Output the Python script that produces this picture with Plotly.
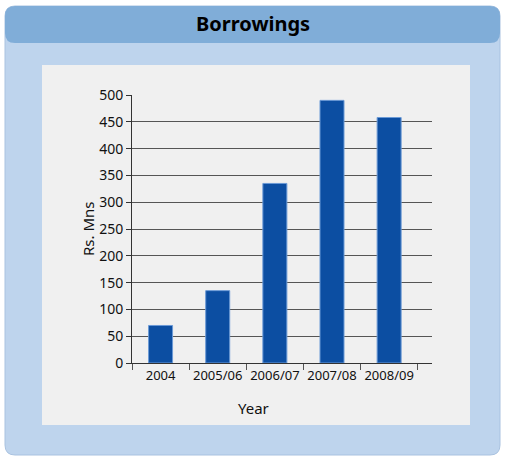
import plotly.graph_objects as go

categories = ["2004", "2005/06", "2006/07", "2007/08", "2008/09"]
values = [70, 135, 335, 490, 458]
y_ticks = [0, 50, 100, 150, 200, 250, 300, 350, 400, 450, 500]

W, H = 505, 459

def px(x):
    return x / W

def py(y):
    return 1 - y / H

def rounded(x0, y0, x1, y1, r):
    X = lambda v: px(v)
    Y = lambda v: py(v)
    return (f"M {X(x0+r)},{Y(y0)} L {X(x1-r)},{Y(y0)} "
            f"Q {X(x1)},{Y(y0)} {X(x1)},{Y(y0+r)} "
            f"L {X(x1)},{Y(y1-r)} Q {X(x1)},{Y(y1)} {X(x1-r)},{Y(y1)} "
            f"L {X(x0+r)},{Y(y1)} Q {X(x0)},{Y(y1)} {X(x0)},{Y(y1-r)} "
            f"L {X(x0)},{Y(y0+r)} Q {X(x0)},{Y(y0)} {X(x0+r)},{Y(y0)} Z")

fig = go.Figure()
fig.add_trace(go.Bar(
    x=categories, y=values, width=0.42,
    marker=dict(color="#0C4EA2", line=dict(color="#6B9AD6", width=1)),
))

shapes = [
    dict(type="path", xref="paper", yref="paper", path=rounded(5, 6, 500, 455, 10),
         fillcolor="#BED4ED", line=dict(color="#A9C2E0", width=1), layer="below"),
    dict(type="path", xref="paper", yref="paper", path=rounded(5, 6, 500, 43, 10),
         fillcolor="#80ADD8", line=dict(width=0), layer="below"),
    dict(type="rect", xref="paper", yref="paper", x0=px(42), x1=px(470), y0=py(425), y1=py(65),
         fillcolor="#F0F0F0", line=dict(width=0), layer="below"),
]

fig.update_layout(
    width=W, height=H,
    margin=dict(l=0, r=0, t=0, b=0, pad=0, autoexpand=False),
    paper_bgcolor="white",
    plot_bgcolor="rgba(0,0,0,0)",
    shapes=shapes,
    showlegend=False,
    font=dict(family="Noto Sans", size=13, color="#111"),
    annotations=[
        dict(text="<b>Borrowings</b>", x=px(253), y=py(23), xref="paper", yref="paper",
             showarrow=False, font=dict(size=20, color="#000", family="Noto Sans"),
             xanchor="center", yanchor="middle"),
        dict(text="Year", x=px(253), y=py(408), xref="paper", yref="paper",
             showarrow=False, font=dict(size=15, color="#111"), xanchor="center", yanchor="middle"),
        dict(text="Rs. Mns", x=px(88), y=py(229), xref="paper", yref="paper", textangle=-90,
             showarrow=False, font=dict(size=15, color="#111"), xanchor="center", yanchor="middle"),
    ],
    xaxis=dict(
        domain=[px(132), px(432)],
        range=[-0.5, 4.75],
        type="category",
        tickson="boundaries",
        tickangle=0,
        ticks="outside", ticklen=6, tickcolor="#555", tickwidth=1,
        showline=True, linecolor="#333", linewidth=1,
        showgrid=False, zeroline=False,
        tickfont=dict(size=13, color="#111"),
    ),
    yaxis=dict(
        domain=[py(363), py(95)],
        range=[0, 500],
        tickvals=y_ticks,
        ticks="outside", ticklen=5, tickcolor="#333", tickwidth=1,
        showline=True, linecolor="#333", linewidth=1,
        showgrid=True, gridcolor="#555", gridwidth=1,
        zeroline=False,
        tickfont=dict(size=14, color="#111"),
    ),
)

fig.write_html("out.html", config={"displayModeBar": False},
               post_script="document.body.style.margin='0';")
